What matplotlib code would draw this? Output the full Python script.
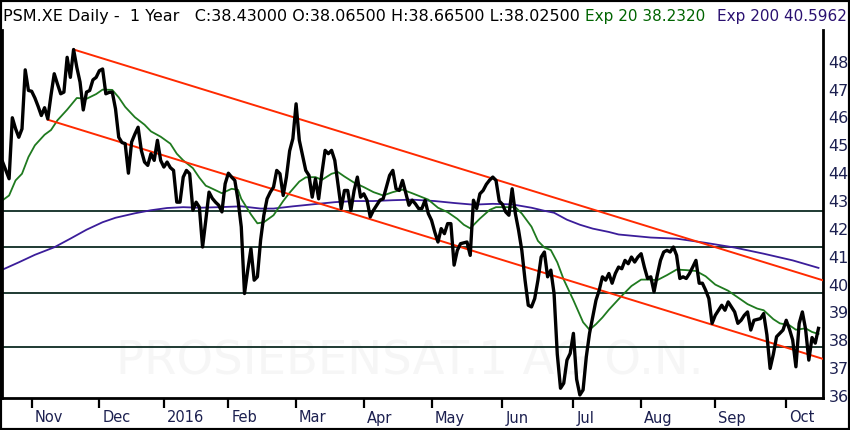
import numpy as np
import pandas as pd
import matplotlib
matplotlib.use('Agg')
import matplotlib.pyplot as plt
from matplotlib.patches import Rectangle
from matplotlib.transforms import ScaledTranslation

# daily closes, PSM.XE, Oct 2015 - Oct 2016
close = [
    44.40, 44.10, 43.80, 45.99, 45.60, 45.29, 45.59, 47.71, 46.97, 46.94,
    46.70, 46.40, 46.07, 46.35, 45.95, 46.80, 47.57, 47.20, 46.85, 46.91,
    48.16, 47.44, 48.44, 47.80, 47.27, 46.27, 46.91, 46.97, 47.35, 47.44,
    47.68, 47.74, 46.85, 46.90, 46.91, 46.31, 45.29, 45.10, 45.06, 44.00,
    45.12, 45.40, 45.65, 44.82, 44.40, 44.28, 44.70, 44.46, 45.18, 44.46,
    44.22, 44.40, 44.20, 44.10, 42.96, 42.96, 43.86, 44.10, 43.98, 42.67,
    42.96, 42.78, 41.35, 42.31, 43.32, 43.10, 42.96, 42.85, 42.61, 43.62,
    44.00, 43.86, 43.74, 43.03, 42.07, 39.68, 40.52, 41.29, 40.16, 40.28,
    41.60, 42.49, 43.08, 43.32, 43.50, 44.10, 43.98, 43.20, 43.86, 44.80,
    45.24, 46.49, 45.18, 44.64, 44.10, 43.92, 43.14, 43.80, 43.08, 44.00,
    44.82, 44.70, 44.82, 44.46, 43.60, 42.73, 43.38, 43.38, 42.67, 43.38,
    43.86, 43.14, 43.26, 43.03, 42.43, 42.67, 42.85, 43.03, 43.08, 43.50,
    43.92, 44.10, 43.44, 43.38, 43.74, 43.30, 42.85, 43.03, 42.90, 42.73,
    42.73, 43.03, 42.55, 42.31, 41.89, 41.53, 42.01, 41.83, 42.19, 42.19,
    40.70, 41.23, 41.47, 41.50, 41.53, 41.05, 43.03, 42.73, 43.26, 43.38,
    43.60, 43.75, 43.86, 43.74, 43.00, 42.88, 42.61, 42.49, 43.44, 42.55,
    41.95, 41.23, 40.16, 39.26, 39.20, 39.50, 40.16, 40.99, 41.17, 40.28,
    40.52, 39.68, 37.50, 36.28, 36.46, 37.29, 37.53, 38.25, 36.60, 36.04,
    36.22, 37.41, 38.25, 38.84, 39.44, 39.80, 40.28, 40.16, 40.40, 40.05,
    40.40, 40.63, 40.57, 40.87, 40.75, 40.99, 40.81, 40.99, 41.11, 40.63,
    40.22, 40.28, 39.74, 40.34, 40.87, 41.17, 41.23, 41.17, 41.35, 41.05,
    40.22, 40.28, 40.22, 40.40, 40.63, 40.87, 40.05, 40.05, 39.80, 39.50,
    38.61, 38.90, 39.08, 39.26, 39.08, 39.38, 39.20, 39.02, 38.61, 38.72,
    38.90, 39.02, 38.37, 38.72, 38.75, 38.78, 38.96, 38.20, 36.99, 37.50,
    38.13, 38.25, 38.37, 38.72, 38.40, 38.01, 37.05, 38.60, 39.02, 38.40,
    37.29, 38.10, 37.90, 38.43,
]

# Exp 20 (green) and Exp 200 (purple), read at these trading days
ema20_day = [0, 2, 4, 6, 8, 10, 13, 15, 17, 20, 23, 26, 29, 31, 34, 36, 38, 41,
             44, 46, 49, 52, 54, 56, 59, 61, 63, 64, 68, 71, 73, 74, 77, 79, 81,
             84, 87, 89, 92, 94, 97, 99, 102, 104, 106, 109, 112, 115, 118, 121,
             124, 127, 132, 135, 138, 141, 143, 145, 148, 151, 153, 156, 159,
             161, 164, 166, 168, 170, 172, 174, 177, 180, 182, 184, 186, 188,
             192, 195, 198, 201, 203, 206, 209, 212, 215, 218, 221, 225, 228,
             231, 234, 236, 239, 241, 244, 246, 249, 251, 253]
ema20 = [43.03, 43.20, 43.74, 43.98, 44.58, 45.00, 45.38, 45.55, 45.90, 46.28,
         46.70, 46.67, 46.84, 47.00, 46.99, 46.72, 46.38, 46.01, 45.74, 45.50,
         45.31, 45.06, 44.70, 44.46, 44.18, 43.84, 43.55, 43.50, 43.28, 43.44,
         43.40, 43.08, 42.52, 42.20, 42.24, 42.49, 43.00, 43.30, 43.70, 43.85,
         43.86, 43.76, 43.98, 44.04, 43.88, 43.66, 43.50, 43.32, 43.20, 43.32,
         43.41, 43.28, 43.05, 42.76, 42.60, 42.36, 42.15, 42.02, 42.37, 42.68,
         42.78, 42.78, 42.78, 42.55, 42.08, 41.57, 41.33, 41.24, 40.80, 40.18,
         39.44, 38.65, 38.38, 38.58, 38.82, 39.10, 39.60, 39.95, 40.18, 40.18,
         40.16, 40.34, 40.54, 40.52, 40.49, 40.30, 40.00, 39.78, 39.54, 39.30,
         39.14, 39.08, 38.76, 38.61, 38.54, 38.38, 38.43, 38.30, 38.23]

ema200_day = [0, 5, 10, 16, 21, 26, 31, 35, 41, 46, 51, 56, 61, 67, 74, 80, 84,
              90, 96, 103, 109, 115, 121, 127, 134, 140, 146, 152, 158, 164,
              168, 171, 175, 179, 183, 188, 191, 201, 209, 218, 227, 236, 245,
              253]
ema200 = [40.54, 40.80, 41.07, 41.34, 41.65, 41.97, 42.24, 42.40, 42.56, 42.67,
          42.75, 42.78, 42.76, 42.78, 42.81, 42.73, 42.73, 42.81, 42.88, 42.96,
          43.00, 43.00, 43.03, 43.05, 43.00, 42.93, 42.87, 42.90, 42.88, 42.76,
          42.65, 42.58, 42.33, 42.15, 42.01, 41.89, 41.80, 41.69, 41.65, 41.50,
          41.33, 41.11, 40.87, 40.60]

# horizontal support / resistance levels
levels = [42.64, 41.35, 39.70, 37.75]

# trend channel, (trading day, price) at both ends
upper_day = [22, 254.5]
upper_px = [48.44, 40.15]
lower_day = [14, 254.5]
lower_px = [45.92, 37.33]

holidays = ['2015-12-24', '2015-12-25', '2015-12-31', '2016-01-01',
            '2016-03-25', '2016-03-28']
dates = pd.date_range('2015-10-20', periods=len(close),
                      freq=pd.offsets.CustomBusinessDay(holidays=holidays))

fig = plt.figure(figsize=(8.5, 4.3), dpi=100)
ax = fig.add_axes([2 / 850, 1 - 398 / 430, 821 / 850, 368 / 430])
x = np.arange(len(close))

ax.text(0.497, 0.098, 'PROSIEBENSAT.1 AG O.N.', transform=ax.transAxes,
        fontsize=33.5, color='#f6f6f6', ha='center', va='center', zorder=0)

for lv in levels:
    ax.axhline(lv, color='#1e3a32', lw=1.4, zorder=1)

ax.plot(ema200_day, ema200, color='#3b1d9a', lw=1.3, zorder=2)
ax.plot(ema20_day, ema20, color='#1f7a1f', lw=1.3, zorder=2)
ax.plot(upper_day, upper_px, color='#ff2a00', lw=1.4, zorder=3)
ax.plot(lower_day, lower_px, color='#ff2a00', lw=1.4, zorder=3)
ax.plot(x, close, color='black', lw=2.4, solid_joinstyle='round', zorder=4)

ax.set_xlim(-0.2, 254.4)
ax.set_ylim(35.93, 49.14)

# y axis on the right
ax.yaxis.tick_right()
ax.set_yticks(range(36, 49))
ax.tick_params(axis='y', length=0, pad=4, labelsize=11.5, labelcolor='#1c2050')

# month ticks at first trading day of each month
month = dates.month
starts = [i for i in range(1, len(dates)) if month[i] != month[i - 1]]
labels = ['2016' if dates[i].month == 1 else dates[i].strftime('%b') for i in starts]
ax.set_xticks(starts)
ax.set_xticklabels(labels)
ax.tick_params(axis='x', direction='out', length=7, width=1.6, pad=2,
               labelsize=10.5, labelcolor='#1c2050', color='black')
shift = ScaledTranslation(2 / 72, 0, fig.dpi_scale_trans)
for lab in ax.get_xticklabels():
    lab.set_ha('left')
    lab.set_transform(lab.get_transform() + shift)

ax.spines['top'].set_visible(False)
for s in ('left', 'right', 'bottom'):
    ax.spines[s].set_linewidth(2)
    ax.spines[s].set_color('black')

# header line
hy = 1 - 17 / 430
fig.text(3 / 850, hy, 'PSM.XE Daily -  1 Year   C:38.43000 O:38.06500 H:38.66500 L:38.02500',
         fontsize=11.5, color='black', va='center')
fig.text(585 / 850, hy, 'Exp 20 38.2320', fontsize=11, color='#006400', va='center')
fig.text(717 / 850, hy, 'Exp 200 40.5962', fontsize=11, color='#2a1070', va='center')

fig.patches.append(Rectangle((0, 0), 1, 1, transform=fig.transFigure,
                             fill=False, ec='black', lw=3, zorder=10))

fig.savefig('out.png', dpi=100)
